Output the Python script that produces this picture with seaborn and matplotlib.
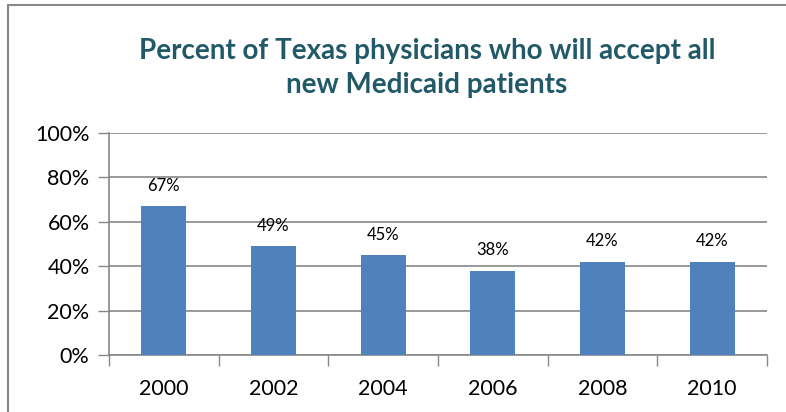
import matplotlib
matplotlib.use("Agg")
import matplotlib.pyplot as plt
import seaborn as sns
import pandas as pd
from matplotlib.patches import Rectangle
from matplotlib.ticker import FixedLocator

years = ["2000", "2002", "2004", "2006", "2008", "2010"]
percents = [67, 49, 45, 38, 42, 42]
ytick_values = [0, 20, 40, 60, 80, 100]
ytick_labels = ["0%", "20%", "40%", "60%", "80%", "100%"]
title = "Percent of Texas physicians who will accept all\nnew Medicaid patients"

sns.set_theme(style="white")
plt.rcParams["font.family"] = ["Lato", "DejaVu Sans"]

df = pd.DataFrame({"year": years, "pct": percents})

fig = plt.figure(figsize=(7.86, 4.12), dpi=100)
ax = fig.add_axes([109 / 786, 1 - 355 / 412, (767 - 109) / 786, (355 - 133) / 412])

sns.barplot(data=df, x="year", y="pct", color="#4F81BD", saturation=1,
            width=0.41, ax=ax, zorder=3, edgecolor="none")

ax.set_ylim(0, 100)
ax.set_xlim(-0.5, len(years) - 0.5)
ax.set_yticks(ytick_values)
ax.set_yticklabels(ytick_labels, fontsize=15.5, color="black")
ax.tick_params(axis="y", length=8, width=1, color="#888888", pad=6, left=True)
ax.tick_params(axis="x", which="major", length=0, pad=17, labelsize=15.5, labelcolor="black")
ax.xaxis.set_minor_locator(FixedLocator([i - 0.5 for i in range(len(years) + 1)]))
ax.tick_params(axis="x", which="minor", length=8, width=1, color="#888888", bottom=True)
ax.grid(axis="y", color="#888888", linewidth=1.2, zorder=0)
ax.set_axisbelow(True)
ax.set_xlabel("")
ax.set_ylabel("")
for s in ["top", "right"]:
    ax.spines[s].set_visible(False)
for s in ["left", "bottom"]:
    ax.spines[s].set_color("#888888")
    ax.spines[s].set_linewidth(1.2)

for i, v in enumerate(percents):
    ax.annotate(f"{v}%", (i, v), xytext=(0, 9), textcoords="offset points",
                ha="center", va="bottom", fontsize=12, color="black")

fig.text(427 / 786, 1 - 68 / 412, title, ha="center", va="center",
         fontsize=20, fontweight="bold", color="#215968", linespacing=1.35)

fig.patches.append(Rectangle((8 / 786, -0.1), 1.2, (1 - 5 / 412) + 0.1,
                             transform=fig.transFigure, fill=False,
                             edgecolor="#888888", linewidth=1.5))

fig.savefig("out.png", dpi=100)
